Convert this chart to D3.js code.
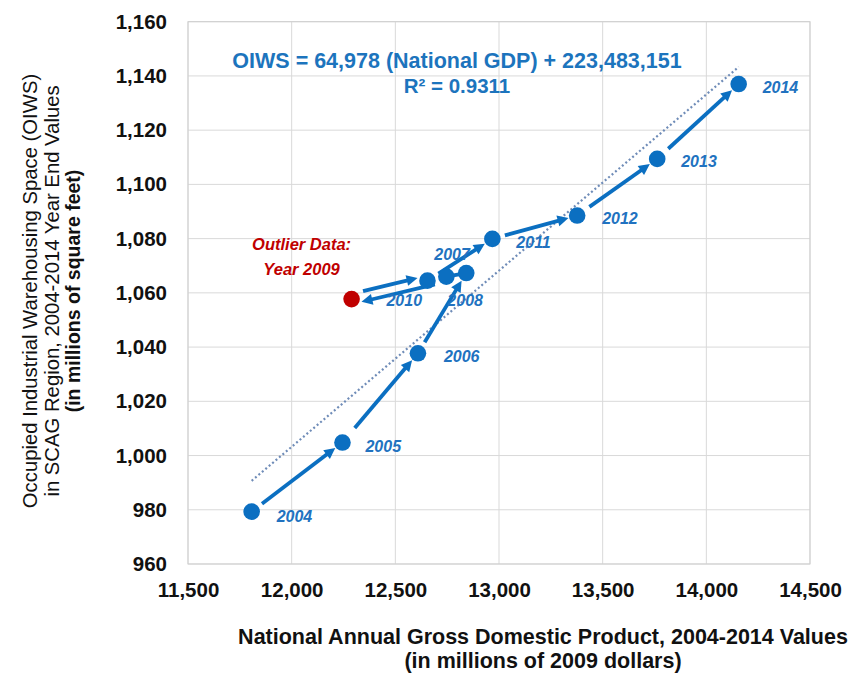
<!DOCTYPE html>
<html>
<head>
<meta charset="utf-8">
<script src="https://cdn.jsdelivr.net/npm/d3@7"></script>
<style>
  html, body { margin: 0; padding: 0; background: #fff; }
  svg { display: block; font-family: "Liberation Sans", Arial, sans-serif; }
</style>
</head>
<body>
<svg id="chart" width="851" height="673"></svg>
<script>
// ---------------- data ----------------
const years = ["2004","2005","2006","2007","2008","2009","2010","2011","2012","2013","2014"];
const gdp   = [11807, 12245, 12609, 12842, 12746, 12289, 12655, 12968, 13377, 13763, 14156];
const oiws  = [979.3, 1004.8, 1037.7, 1067.3, 1066.0, 1057.7, 1064.5, 1079.9, 1088.5, 1109.4, 1137.0];
const outlierYear = "2009";
const outlierLines = ["Outlier Data:", "Year 2009"];
const xTicks = [11500, 12000, 12500, 13000, 13500, 14000, 14500];
const yTicks = [960, 980, 1000, 1020, 1040, 1060, 1080, 1100, 1120, 1140, 1160];
const slope = 64978, intercept = 223483151, r2 = 0.9311;
const equationLines = ["OIWS = 64,978 (National GDP) + 223,483,151", "R\u00B2 = 0.9311"];
const xTitleLines = ["National Annual Gross Domestic Product, 2004-2014 Values", "(in millions of 2009 dollars)"];
const yTitleLines = ["Occupied Industrial Warehousing Space (OIWS)", "in SCAG Region, 2004-2014 Year End Values", "(in millions of square feet)"];

// ---------------- layout ----------------
const W = 851, H = 673;
const margin = { left: 188, right: 41, top: 21.7, bottom: 109 };
const labelOffsets = {
  "2004": [25, 10], "2005": [23, 9], "2006": [26, 9], "2007": [-32, -13],
  "2008": [1, 29], "2010": [-41, 25], "2011": [24, 9], "2012": [25, 8],
  "2013": [24, 8], "2014": [24, 9]
};
const laneOffset = { 4: 5, 5: 5 };   // arrows 2008->2009 and 2009->2010 side by side
const startGap = { 1: 19, 8: 15, 9: 15 };

const BLUE = "#0b6fc1", LABEL_BLUE = "#2172c0", EQ_BLUE = "#1c74bd", RED = "#c00000";

const svg = d3.select("#chart");
const x = d3.scaleLinear().domain([11500, 14500]).range([margin.left, W - margin.right]);
const y = d3.scaleLinear().domain([960, 1160]).range([H - margin.bottom, margin.top]);

// gridlines
const grid = svg.append("g");
grid.selectAll("line.v").data(xTicks).join("line")
  .attr("x1", d => x(d)).attr("x2", d => x(d))
  .attr("y1", y(1160)).attr("y2", y(960))
  .attr("stroke", "#d9d9d9").attr("stroke-width", 1);
grid.selectAll("line.h").data(yTicks).join("line")
  .attr("x1", x(11500)).attr("x2", x(14500))
  .attr("y1", d => y(d)).attr("y2", d => y(d))
  .attr("stroke", "#d9d9d9").attr("stroke-width", 1);
svg.append("rect")
  .attr("x", x(11500)).attr("y", y(1160))
  .attr("width", x(14500) - x(11500)).attr("height", y(960) - y(1160))
  .attr("fill", "none").attr("stroke", "#cfcfcf").attr("stroke-width", 1);

// axes (labels only)
const fmt = d3.format(",");
const xAxis = svg.append("g").attr("transform", `translate(0,${y(960)})`)
  .call(d3.axisBottom(x).tickValues(xTicks).tickFormat(fmt).tickSize(0).tickPadding(18));
xAxis.select(".domain").remove();
xAxis.selectAll("text").attr("font-size", 20.5).attr("font-weight", "bold").attr("fill", "#111")
  .attr("font-family", "Liberation Sans, Arial, sans-serif");
const yAxis = svg.append("g").attr("transform", `translate(${x(11500)},0)`)
  .call(d3.axisLeft(y).tickValues(yTicks).tickFormat(fmt).tickSize(0).tickPadding(21));
yAxis.select(".domain").remove();
yAxis.selectAll("text").attr("font-size", 20.5).attr("font-weight", "bold").attr("fill", "#111")
  .attr("font-family", "Liberation Sans, Arial, sans-serif");

// axis titles
svg.append("g").selectAll("text").data(xTitleLines).join("text")
  .attr("x", 543).attr("y", (d, i) => 644 + i * 24)
  .attr("text-anchor", "middle").attr("font-size", 21.5).attr("font-weight", "bold")
  .attr("fill", "#111").text(d => d);
svg.append("g").selectAll("text").data(yTitleLines).join("text")
  .attr("transform", (d, i) => `translate(${[37, 59, 80][i]},291) rotate(-90)`)
  .attr("text-anchor", "middle").attr("font-size", (d, i) => i < 2 ? 20.3 : 19.5)
  .attr("font-weight", (d, i) => i < 2 ? "normal" : "bold")
  .attr("fill", "#111").text(d => d);

// trendline
const [gmin, gmax] = d3.extent(gdp);
const trend = x0 => (slope * x0 + intercept) / 1e6;
svg.append("line")
  .attr("x1", x(gmin)).attr("y1", y(trend(gmin)))
  .attr("x2", x(gmax)).attr("y2", y(trend(gmax)))
  .attr("stroke", "#6f8cb8").attr("stroke-width", 2.2).attr("stroke-dasharray", "2,2.5");

// arrows between consecutive years
const pts = years.map((yr, i) => ({ yr, px: x(gdp[i]), py: y(oiws[i]) }));
const arrows = svg.append("g");
for (let i = 0; i < pts.length - 1; i++) {
  const a = pts[i], b = pts[i + 1];
  const dx = b.px - a.px, dy = b.py - a.py, len = Math.hypot(dx, dy);
  const ux = dx / len, uy = dy / len, nx = -uy, ny = ux;
  const off = -(laneOffset[i] || 0);
  const g0 = startGap[i] || 13;
  const sx = a.px + ux * g0 + nx * off, sy = a.py + uy * g0 + ny * off;
  const tx = b.px - ux * 9 + nx * off, ty = b.py - uy * 9 + ny * off;
  const bx = tx - ux * 11, by = ty - uy * 11;
  arrows.append("line")
    .attr("x1", sx).attr("y1", sy).attr("x2", tx - ux * 8).attr("y2", ty - uy * 8)
    .attr("stroke", BLUE).attr("stroke-width", 3.8);
  arrows.append("path")
    .attr("d", `M${tx},${ty}L${bx + nx * 5.5},${by + ny * 5.5}L${bx - nx * 5.5},${by - ny * 5.5}Z`)
    .attr("fill", BLUE);
}

// dots
svg.append("g").selectAll("circle").data(pts).join("circle")
  .attr("cx", d => d.px).attr("cy", d => d.py).attr("r", 8.3)
  .attr("fill", d => d.yr === outlierYear ? RED : BLUE);

// year labels
svg.append("g").selectAll("text").data(pts.filter(d => labelOffsets[d.yr])).join("text")
  .attr("x", d => d.px + labelOffsets[d.yr][0]).attr("y", d => d.py + labelOffsets[d.yr][1])
  .attr("font-size", 16).attr("font-weight", "bold").attr("font-style", "italic")
  .attr("fill", LABEL_BLUE).text(d => d.yr);

// outlier note
const op = pts.find(d => d.yr === outlierYear);
svg.append("g").selectAll("text").data(outlierLines).join("text")
  .attr("x", op.px - 50).attr("y", (d, i) => op.py - 49 + i * 25)
  .attr("text-anchor", "middle").attr("font-size", 16.5).attr("font-weight", "bold")
  .attr("font-style", "italic").attr("fill", RED).text(d => d);

// equation
svg.append("g").selectAll("text").data(equationLines).join("text")
  .attr("x", 457).attr("y", (d, i) => 68 + i * 25)
  .attr("text-anchor", "middle").attr("font-size", (d, i) => i === 0 ? 21.5 : 20.5).attr("font-weight", "bold")
  .attr("fill", EQ_BLUE).text(d => d);
</script>
</body>
</html>
